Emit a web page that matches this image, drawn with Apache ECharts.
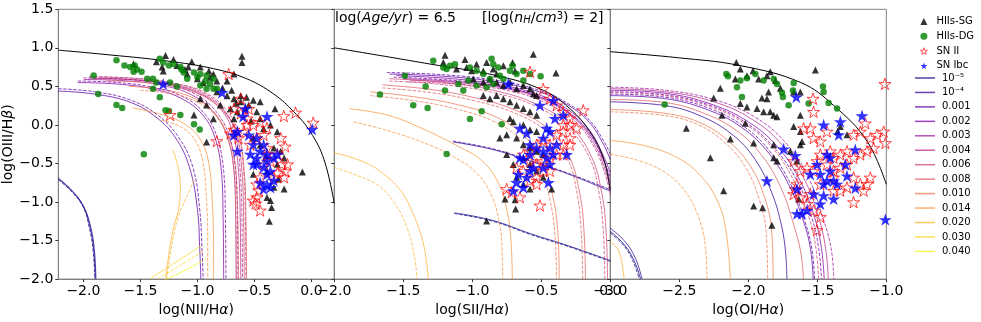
<!DOCTYPE html>
<html>
<head>
<meta charset="utf-8">
<script src="https://cdn.jsdelivr.net/npm/echarts@6.0.0/dist/echarts.min.js"></script>
<style>
html, body { margin: 0; padding: 0; background: #fff; }
#chart { width: 981px; height: 322px; }
</style>
</head>
<body>
<div id="chart"></div>
<script>
// metallicity labels of the model grid
const metals = ['10⁻⁵', '10⁻⁴', '0.001', '0.002', '0.003', '0.004', '0.006', '0.008', '0.010', '0.014', '0.020', '0.030', '0.040'];
const groups = ['HIIs-SG', 'HIIs-DG', 'SN II', 'SN Ibc'];

// ---- panel 1: log(NII/Ha) vs log(OIII/Hb)
const sgNII = [[-1.28,0.90],[-1.21,0.85],[-1.05,0.82],[-1.31,0.75],[-1.11,0.72],[-0.975,0.75],[-0.90,0.70],[-0.86,0.66],[-1.09,0.66],[-1.00,0.60],[-0.95,0.55],[-0.83,0.57],[-0.74,0.57],[-0.68,0.66],[-0.61,0.89],[-0.61,0.81],[-0.83,0.43],[-0.74,0.38],[-0.68,0.34],[-0.62,0.38],[-0.57,0.36],[-0.62,0.30],[-0.55,0.26],[-0.51,0.32],[-0.975,0.34],[-0.92,0.26],[-0.80,0.26],[-0.71,0.21],[-0.65,0.17],[-1.03,0.13],[-0.86,0.08],[-0.68,0.08],[-0.48,0.17],[-0.45,0.08],[-0.32,0.21],[-0.36,0.00],[-0.30,-0.09],[-0.51,-0.17],[-0.45,-0.26],[-0.33,-0.30],[-0.27,-0.34],[-0.24,-0.43],[-0.30,-0.51],[-0.39,-0.60],[-0.08,-0.61],[-0.51,-0.64],[-0.33,-0.81],[-0.24,-0.83],[-0.39,-0.94],[-0.36,-0.98],[-0.35,-1.07],[-0.37,-1.25],[-0.92,-0.22],[-1.56,0.79],[-1.36,0.82],[-1.30,0.70],[-1.18,0.77],[-1.08,0.75],[-0.70,0.45],[-0.66,0.28],[-0.58,0.22],[-0.53,0.05],[-0.42,-0.05],[-0.40,-0.40],[-0.29,-0.70],[-0.45,0.30],[-0.78,0.48],[-0.89,0.62]];
const dgNII = [[-1.71,0.84],[-1.64,0.77],[-1.59,0.75],[-1.55,0.77],[-1.53,0.72],[-1.49,0.69],[-1.56,0.69],[-1.44,0.60],[-1.39,0.60],[-1.33,0.86],[-1.30,0.81],[-1.25,0.77],[-1.21,0.79],[-1.15,0.75],[-1.14,0.72],[-1.12,0.68],[-1.03,0.68],[-0.975,0.66],[-0.92,0.64],[-1.00,0.62],[-0.93,0.57],[-0.89,0.53],[-0.86,0.47],[-0.83,0.47],[-0.92,0.47],[-0.975,0.51],[-1.91,0.64],[-1.87,0.40],[-1.71,0.26],[-1.66,0.22],[-1.33,0.36],[-1.28,0.19],[-1.25,0.18],[-1.15,0.13],[-1.03,0.01],[-0.98,-0.06],[-1.47,-0.38],[-1.39,0.47],[-1.36,0.55],[-1.24,0.55],[-1.18,0.50],[-1.09,0.60],[-0.86,0.60]];
const snIINII = [[-0.726,0.66],[-1.24,0.13],[-0.83,-0.21],[-0.243,0.115],[-0.14,0.16],[0.015,0.03],[-0.68,0.21],[-0.62,0.15],[-0.565,0.085],[-0.51,0.0],[-0.45,0.04],[-0.39,-0.04],[-0.42,-0.13],[-0.48,-0.17],[-0.595,-0.085],[-0.64,-0.17],[-0.536,-0.256],[-0.39,-0.30],[-0.27,-0.17],[-0.23,-0.28],[-0.30,-0.38],[-0.36,-0.47],[-0.21,-0.51],[-0.23,-0.60],[-0.24,-0.68],[-0.30,-0.62],[-0.42,-0.51],[-0.45,-0.68],[-0.48,-0.77],[-0.46,-0.85],[-0.48,-0.94],[-0.49,-1.02],[-0.45,-1.11],[-0.51,-0.98],[-0.565,0.0],[-0.68,-0.06],[-0.71,-0.11],[-0.62,0.34],[-0.55,0.21],[-0.39,-0.38],[-0.33,-0.68],[-0.26,-0.51]];
const snIbcNII = [[-1.30,0.53],[-0.785,0.42],[-0.58,0.21],[-0.60,0.11],[-0.39,0.11],[-0.65,-0.085],[-0.55,-0.13],[-0.48,-0.17],[-0.51,-0.256],[-0.42,-0.256],[-0.45,-0.34],[-0.39,-0.38],[-0.48,-0.43],[-0.39,-0.47],[-0.33,-0.43],[-0.30,-0.38],[-0.42,-0.55],[-0.51,-0.51],[-0.39,-0.64],[-0.45,-0.75],[-0.39,-0.77],[-0.36,-0.81],[-0.42,-0.83],[-0.33,-0.72],[-0.65,-0.34],[0.006,-0.056],[-0.68,-0.13],[-0.536,-0.38],[-0.48,-0.51],[-0.36,-0.60]];
const kewNII = [[-2.22,0.97],[-1.85,0.92],[-1.27,0.83],[-0.86,0.73],[-0.57,0.60],[-0.33,0.40],[-0.155,0.17],[-0.01,-0.09],[0.11,-0.45],[0.2,-1.02]];
// model tracks: [metallicity index, points]; first set drawn solid, second dashed
const niiSolid = [
  [0, [[-2.22,-0.69],[-2.1,-0.85],[-2.0,-1.05],[-1.94,-1.3],[-1.905,-1.6],[-1.89,-2.0]]],
  [1, [[-2.22,-0.7],[-2.1,-0.86],[-2.0,-1.06],[-1.945,-1.31],[-1.91,-1.61],[-1.895,-2.0]]],
  [2, [[-2.22,0.44],[-1.9,0.4],[-1.6,0.3],[-1.38,0.12],[-1.2,-0.15],[-1.07,-0.55],[-1.0,-1.1],[-0.98,-1.6],[-0.97,-2.0]]],
  [3, [[-2.05,0.55],[-1.7,0.53],[-1.4,0.47],[-1.15,0.35],[-0.96,0.14],[-0.85,-0.15],[-0.79,-0.6],[-0.775,-1.2],[-0.77,-2.0]]],
  [4, [[-2.0,0.59],[-1.6,0.57],[-1.3,0.51],[-1.05,0.39],[-0.86,0.17],[-0.74,-0.15],[-0.68,-0.6],[-0.665,-1.2],[-0.66,-2.0]]],
  [5, [[-1.95,0.61],[-1.6,0.59],[-1.3,0.54],[-1.0,0.42],[-0.8,0.21],[-0.69,-0.1],[-0.64,-0.6],[-0.625,-1.2],[-0.62,-2.0]]],
  [6, [[-1.9,0.6],[-1.5,0.58],[-1.2,0.52],[-0.95,0.4],[-0.77,0.19],[-0.66,-0.1],[-0.61,-0.6],[-0.595,-1.2],[-0.59,-2.0]]],
  [7, [[-1.8,0.57],[-1.45,0.55],[-1.15,0.48],[-0.92,0.35],[-0.75,0.14],[-0.64,-0.15],[-0.59,-0.6],[-0.575,-1.2],[-0.57,-2.0]]],
  [8, [[-1.6,0.5],[-1.3,0.46],[-1.05,0.36],[-0.88,0.2],[-0.76,-0.05],[-0.68,-0.4],[-0.65,-1.0],[-0.64,-2.0]]],
  [9, [[-1.57,0.22],[-1.3,0.13],[-1.1,0.0],[-0.97,-0.2],[-0.9,-0.5],[-0.87,-1.0],[-0.86,-1.5],[-0.86,-2.0]]],
  [10, [[-1.215,-0.32],[-1.17,-0.55],[-1.15,-0.8],[-1.16,-1.05],[-1.22,-1.4],[-1.28,-2.0]]],
  [11, [[-1.42,-2.0],[-1.2,-1.79],[-0.96,-1.56]]],
  [12, [[-1.3,-2.02],[-1.1,-1.88],[-0.93,-1.74]]]
];
const niiDashed = [
  [0, [[-2.22,-0.71],[-2.1,-0.87],[-2.0,-1.07],[-1.95,-1.32],[-1.915,-1.62],[-1.9,-2.0]]],
  [2, [[-2.22,0.47],[-1.9,0.43],[-1.6,0.33],[-1.36,0.14],[-1.17,-0.15],[-1.04,-0.55],[-0.98,-1.1],[-0.96,-1.6],[-0.95,-2.0]]],
  [3, [[-2.05,0.57],[-1.7,0.55],[-1.4,0.49],[-1.13,0.37],[-0.94,0.15],[-0.83,-0.15],[-0.77,-0.6],[-0.755,-1.2],[-0.75,-2.0]]],
  [4, [[-2.0,0.61],[-1.6,0.59],[-1.3,0.53],[-1.03,0.41],[-0.84,0.18],[-0.72,-0.15],[-0.665,-0.6],[-0.65,-1.2],[-0.645,-2.0]]],
  [5, [[-1.95,0.63],[-1.6,0.61],[-1.3,0.56],[-0.98,0.44],[-0.78,0.22],[-0.67,-0.1],[-0.625,-0.6],[-0.61,-1.2],[-0.605,-2.0]]],
  [6, [[-1.85,0.62],[-1.5,0.6],[-1.2,0.54],[-0.93,0.42],[-0.75,0.2],[-0.64,-0.1],[-0.595,-0.6],[-0.58,-1.2],[-0.575,-2.0]]],
  [8, [[-1.5,0.45],[-1.25,0.41],[-1.02,0.31],[-0.86,0.15],[-0.75,-0.1],[-0.69,-0.45],[-0.665,-1.0],[-0.66,-2.0]]],
  [9, [[-1.32,0.06],[-1.15,-0.02],[-1.02,-0.2],[-0.95,-0.5],[-0.92,-1.0],[-0.91,-1.5],[-0.91,-2.0]]],
  [10, [[-1.03,-0.72],[-1.1,-0.95],[-1.17,-1.2],[-1.23,-1.6],[-1.27,-2.0]]],
  [11, [[-1.35,-2.0],[-1.15,-1.82],[-0.95,-1.64]]]
];

// ---- panel 2: log(SII/Ha)
const sgSII = [[-1.198,0.903],[-1.21,0.81],[-1.053,0.85],[-1.114,0.724],[-1.041,0.745],[-1.005,0.703],[-0.969,0.788],[-0.92,0.70],[-0.896,0.81],[-0.848,0.724],[-0.824,0.66],[-0.775,0.767],[-0.708,0.81],[-0.69,0.70],[-0.558,0.916],[-0.394,0.673],[-0.993,0.596],[-0.92,0.554],[-0.872,0.596],[-0.824,0.554],[-0.775,0.511],[-0.727,0.554],[-0.679,0.468],[-0.63,0.511],[-0.582,0.468],[-0.558,0.404],[-0.534,0.383],[-0.92,0.383],[-0.872,0.34],[-0.824,0.383],[-0.775,0.34],[-0.727,0.30],[-0.679,0.255],[-0.63,0.213],[-0.582,0.17],[-0.534,0.127],[-0.727,0.085],[-0.703,0.042],[-0.63,0.0],[-0.582,-0.064],[-0.534,-0.086],[-0.751,-0.128],[-0.679,-0.171],[-0.63,-0.256],[-0.582,-0.30],[-0.534,-0.34],[-0.486,-0.384],[-0.63,-0.427],[-0.582,-0.512],[-0.534,-0.597],[-0.486,-0.68],[-0.679,-0.68],[-0.63,-0.768],[-0.582,-0.83],[-0.425,-0.83],[-0.763,-0.96],[-0.69,-0.97],[-0.686,-1.09],[-0.896,-1.245],[-0.80,-0.17],[-0.751,-0.384],[-0.703,-0.512]];
const dgSII = [[-1.283,0.831],[-1.21,0.745],[-1.186,0.724],[-1.162,0.767],[-1.126,0.788],[-1.017,0.745],[-0.969,0.703],[-0.92,0.66],[-0.872,0.596],[-0.86,0.86],[-0.848,0.788],[-0.812,0.745],[-0.80,0.639],[-0.775,0.596],[-0.727,0.703],[-0.708,0.767],[-0.679,0.66],[-0.63,0.703],[-0.582,0.66],[-0.505,0.63],[-0.63,0.575],[-0.848,0.532],[-1.488,0.639],[-1.669,0.396],[-1.338,0.50],[-1.198,0.447],[-1.428,0.255],[-1.324,0.221],[-1.017,0.076],[-0.932,0.178],[-0.787,0.01],[-1.186,-0.376],[-0.969,0.511],[-1.101,0.532],[-1.029,0.575],[-0.896,0.49],[-1.065,0.447]];
const snIISII = [[-0.582,0.69],[-0.196,0.191],[-0.292,0.085],[-0.341,0.0],[-0.486,0.468],[-0.437,0.34],[-0.389,0.255],[-0.341,0.17],[-0.292,0.0],[-0.341,-0.086],[-0.389,-0.128],[-0.292,-0.171],[-0.341,-0.256],[-0.437,-0.256],[-0.486,-0.214],[-0.534,-0.256],[-0.582,-0.34],[-0.63,-0.384],[-0.582,-0.47],[-0.534,-0.512],[-0.486,-0.47],[-0.437,-0.427],[-0.389,-0.384],[-0.486,-0.597],[-0.534,-0.68],[-0.582,-0.725],[-0.63,-0.597],[-0.679,-0.555],[-0.534,-0.768],[-0.751,-0.83],[-0.715,-0.874],[-0.655,-0.938],[-0.51,-1.045],[-0.244,-0.043],[-0.292,-0.256],[-0.341,-0.384],[-0.437,-0.597]];
const snIbcSII = [[-0.739,0.532],[-0.51,0.255],[-0.413,0.319],[-0.341,0.127],[-0.401,0.085],[-0.461,-0.043],[-0.655,-0.043],[-0.606,-0.107],[-0.437,-0.086],[-0.486,-0.171],[-0.389,-0.256],[-0.437,-0.30],[-0.486,-0.34],[-0.534,-0.30],[-0.582,-0.384],[-0.63,-0.448],[-0.655,-0.427],[-0.461,-0.427],[-0.413,-0.384],[-0.316,-0.384],[-0.437,-0.512],[-0.486,-0.555],[-0.558,-0.555],[-0.582,-0.597],[-0.667,-0.64],[-0.606,-0.68],[-0.679,-0.746],[-0.63,-0.81],[-0.703,-0.853],[-0.449,-0.746],[-0.582,-0.256]];
const kewSII = [[-2.0,1.0],[-1.6,0.88],[-1.307,0.79],[-0.824,0.64],[-0.486,0.45],[-0.292,0.21],[-0.147,-0.09],[-0.05,-0.43],[0.0,-0.85]];
const siiSolid = [
  [0, [[-1.13,-1.14],[-0.85,-1.24],[-0.58,-1.41],[-0.3,-1.57],[0.0,-1.76]]],
  [1, [[-1.14,-0.22],[-0.85,-0.32],[-0.58,-0.47],[-0.3,-0.64],[0.0,-0.86]]],
  [2, [[-1.6,0.66],[-1.2,0.63],[-0.8,0.55],[-0.5,0.42],[-0.3,0.25],[-0.15,0.03],[-0.05,-0.25],[0.0,-0.45]]],
  [3, [[-1.55,0.64],[-1.15,0.6],[-0.8,0.52],[-0.5,0.38],[-0.3,0.19],[-0.15,-0.07],[-0.05,-0.4],[0.0,-0.62]]],
  [4, [[-1.5,0.6],[-1.1,0.56],[-0.75,0.48],[-0.48,0.34],[-0.28,0.13],[-0.13,-0.17],[-0.04,-0.5],[0.0,-0.75]]],
  [5, [[-1.45,0.58],[-1.05,0.54],[-0.7,0.45],[-0.45,0.3],[-0.25,0.07],[-0.11,-0.27],[-0.03,-0.62],[0.0,-0.85]]],
  [6, [[-1.6,0.6],[-1.2,0.55],[-0.85,0.45],[-0.55,0.28],[-0.3,0.0],[-0.14,-0.4],[-0.06,-0.9],[-0.03,-1.4],[-0.02,-2.0]]],
  [7, [[-1.65,0.52],[-1.3,0.46],[-1.0,0.36],[-0.7,0.2],[-0.45,-0.05],[-0.3,-0.4],[-0.22,-0.9],[-0.19,-1.4],[-0.18,-2.0]]],
  [8, [[-1.74,0.43],[-1.4,0.36],[-1.1,0.26],[-0.85,0.12],[-0.65,-0.1],[-0.5,-0.45],[-0.42,-0.9],[-0.38,-1.4],[-0.37,-2.0]]],
  [9, [[-1.89,0.21],[-1.6,0.12],[-1.31,-0.09],[-1.1,-0.28],[-0.94,-0.45],[-0.82,-0.72],[-0.75,-1.1],[-0.72,-1.5],[-0.71,-2.0]]],
  [10, [[-2.0,-0.36],[-1.8,-0.47],[-1.67,-0.6],[-1.52,-0.85],[-1.43,-1.15],[-1.36,-1.5],[-1.33,-1.8],[-1.32,-2.0]]]
];
const siiDashed = [
  [0, [[-1.13,-1.15],[-0.85,-1.25],[-0.58,-1.42],[-0.3,-1.58],[0.0,-1.77]]],
  [1, [[-1.14,-0.21],[-0.85,-0.31],[-0.58,-0.46],[-0.3,-0.63],[0.0,-0.84]]],
  [2, [[-1.62,0.68],[-1.2,0.65],[-0.8,0.57],[-0.5,0.44],[-0.3,0.27],[-0.15,0.06],[-0.05,-0.2],[0.0,-0.38]]],
  [3, [[-1.57,0.62],[-1.15,0.58],[-0.8,0.5],[-0.5,0.36],[-0.3,0.16],[-0.15,-0.1],[-0.05,-0.45],[0.0,-0.68]]],
  [5, [[-1.47,0.56],[-1.05,0.52],[-0.7,0.43],[-0.45,0.27],[-0.25,0.04],[-0.11,-0.31],[-0.03,-0.68],[0.0,-0.9]]],
  [6, [[-1.6,0.57],[-1.2,0.52],[-0.85,0.42],[-0.55,0.25],[-0.31,-0.03],[-0.15,-0.43],[-0.08,-0.9],[-0.05,-1.4],[-0.04,-2.0]]],
  [7, [[-1.65,0.48],[-1.3,0.42],[-1.0,0.32],[-0.7,0.16],[-0.46,-0.09],[-0.31,-0.44],[-0.24,-0.9],[-0.21,-1.4],[-0.2,-2.0]]],
  [8, [[-1.74,0.38],[-1.4,0.31],[-1.1,0.2],[-0.85,0.05],[-0.66,-0.17],[-0.52,-0.52],[-0.44,-0.95],[-0.4,-1.45],[-0.39,-2.0]]],
  [9, [[-1.86,0.04],[-1.6,-0.08],[-1.31,-0.26],[-1.12,-0.43],[-0.97,-0.62],[-0.86,-0.92],[-0.8,-1.3],[-0.785,-1.6],[-0.78,-2.0]]],
  [10, [[-2.0,-0.55],[-1.8,-0.68],[-1.67,-0.8],[-1.55,-1.05],[-1.47,-1.35],[-1.42,-1.7],[-1.4,-2.0]]]
];

// ---- panel 3: log(OI/Ha)
const sgOI = [[-2.087,0.809],[-2.058,0.724],[-2.01,0.639],[-1.966,0.703],[-1.865,0.639],[-1.841,0.69],[-1.925,0.596],[-2.094,0.596],[-1.514,0.711],[-2.251,0.349],[-2.203,0.477],[-2.058,0.277],[-2.01,0.234],[-1.937,0.213],[-1.901,0.349],[-1.865,0.34],[-1.853,0.426],[-1.804,0.575],[-1.768,0.477],[-1.671,0.426],[-1.623,0.426],[-1.841,0.17],[-1.816,0.127],[-1.792,0.106],[-1.889,0.17],[-1.623,0.127],[-1.671,-0.022],[-1.623,-0.086],[-1.611,-0.214],[-2.191,0.127],[-2.022,0.021],[-1.961,-0.235],[-2.13,-0.184],[-2.449,-0.043],[-2.275,-0.427],[-1.816,-0.256],[-1.792,-0.469],[-1.816,-0.427],[-1.696,-0.341],[-1.647,-0.469],[-2.179,-0.853],[-1.961,-1.053],[-1.896,-1.075],[-1.829,-1.30],[-1.635,-0.96],[-1.333,-0.022],[-1.353,-0.086],[-1.285,-0.128],[-1.623,-0.256]];
const dgOI = [[-2.159,0.66],[-2.147,0.63],[-2.082,0.49],[-2.058,0.575],[-2.046,0.362],[-2.01,0.605],[-1.949,0.66],[-1.889,0.575],[-1.816,0.596],[-1.792,0.532],[-1.756,0.417],[-1.749,0.362],[-1.708,0.255],[-1.671,0.545],[-1.676,0.447],[-1.563,0.277],[-1.459,0.50],[-1.418,0.285],[-1.357,0.213],[-2.606,0.264],[-1.454,0.426]];
const snIIOI = [[-1.01,0.532],[-1.531,0.34],[-1.527,0.17],[-1.599,-0.043],[-1.551,-0.043],[-1.527,-0.171],[-1.478,-0.214],[-1.43,-0.086],[-1.406,-0.341],[-1.382,-0.427],[-1.333,-0.384],[-1.285,-0.341],[-1.237,-0.128],[-1.188,-0.086],[-1.152,0.021],[-1.116,-0.171],[-1.068,-0.128],[-1.019,-0.086],[-1.007,-0.235],[-1.092,-0.30],[-1.14,-0.341],[-1.188,-0.384],[-1.237,-0.427],[-1.285,-0.512],[-1.333,-0.555],[-1.382,-0.597],[-1.43,-0.512],[-1.478,-0.384],[-1.502,-0.469],[-1.527,-0.597],[-1.575,-0.555],[-1.623,-0.597],[-1.671,-0.469],[-1.647,-0.768],[-1.671,-0.896],[-1.623,-0.938],[-1.527,-1.109],[-1.478,-1.194],[-1.502,-1.364],[-1.382,-0.853],[-1.333,-0.853],[-1.285,-0.81],[-1.237,-0.682],[-1.188,-0.768],[-1.14,-0.768],[-1.116,-0.682],[-1.164,-0.853],[-1.237,-1.002],[-1.478,-0.768],[-1.382,-0.682],[-1.551,-0.896],[-1.575,-1.024],[-1.659,-0.832]];
const snIbcOI = [[-1.652,0.362],[-1.176,0.119],[-1.333,0.042],[-1.454,0.0],[-1.345,-0.128],[-1.744,-0.311],[-1.659,-0.397],[-1.865,-0.725],[-1.647,-0.832],[-1.502,-0.512],[-1.478,-0.64],[-1.43,-0.384],[-1.406,-0.427],[-1.406,-0.597],[-1.382,-0.725],[-1.43,-0.725],[-1.454,-0.768],[-1.357,-0.768],[-1.285,-0.661],[-1.297,-0.512],[-1.225,-0.32],[-1.551,-0.64],[-1.527,-0.896],[-1.382,-0.96],[-1.454,-0.917],[-1.478,-1.024],[-1.575,-1.109],[-1.647,-1.151],[-1.611,-1.151],[-1.225,-0.819],[-1.007,-1.228]];
const kewOI = [[-3.0,0.95],[-2.5,0.87],[-2.06,0.77],[-1.62,0.55],[-1.38,0.25],[-1.14,-0.21],[-1.0,-0.77]];
const oiSolid = [
  [0, [[-3.0,-1.38],[-2.9,-1.55],[-2.83,-1.75],[-2.78,-2.0]]],
  [1, [[-3.0,-1.34],[-2.9,-1.5],[-2.82,-1.72],[-2.77,-2.0]]],
  [1, [[-3.0,0.3],[-2.6,0.25],[-2.35,0.12],[-2.12,-0.12],[-1.95,-0.45],[-1.83,-0.88],[-1.76,-1.3],[-1.73,-1.65],[-1.72,-2.0]]],
  [2, [[-3.0,0.38],[-2.6,0.34],[-2.3,0.2],[-2.05,-0.03],[-1.85,-0.37],[-1.7,-0.8],[-1.6,-1.25],[-1.55,-1.6],[-1.53,-2.0]]],
  [3, [[-3.0,0.45],[-2.6,0.41],[-2.27,0.27],[-2.0,0.04],[-1.78,-0.3],[-1.62,-0.74],[-1.52,-1.2],[-1.47,-1.6],[-1.45,-2.0]]],
  [5, [[-3.0,0.47],[-2.6,0.43],[-2.25,0.3],[-1.97,0.07],[-1.75,-0.27],[-1.59,-0.72],[-1.49,-1.2],[-1.44,-1.6],[-1.42,-2.0]]],
  [7, [[-3.0,0.33],[-2.6,0.29],[-2.32,0.15],[-2.08,-0.08],[-1.9,-0.4],[-1.76,-0.83],[-1.67,-1.3],[-1.62,-1.65],[-1.6,-2.0]]],
  [8, [[-3.0,0.2],[-2.6,0.15],[-2.35,0.03],[-2.15,-0.2],[-1.99,-0.52],[-1.88,-0.95],[-1.83,-1.4],[-1.82,-2.0]]],
  [9, [[-3.0,-0.2],[-2.75,-0.27],[-2.52,-0.42],[-2.35,-0.65],[-2.22,-1.0],[-2.16,-1.4],[-2.13,-2.0]]],
  [10, [[-3.0,-1.52],[-2.95,-1.6],[-2.92,-1.75],[-2.9,-2.0]]]
];
const oiDashed = [
  [0, [[-3.0,-1.4],[-2.9,-1.57],[-2.835,-1.77],[-2.79,-2.0]]],
  [2, [[-3.0,0.4],[-2.6,0.36],[-2.29,0.22],[-2.04,-0.01],[-1.84,-0.35],[-1.69,-0.78],[-1.59,-1.25],[-1.54,-1.6],[-1.52,-2.0]]],
  [3, [[-3.0,0.43],[-2.6,0.39],[-2.27,0.25],[-2.01,0.02],[-1.8,-0.32],[-1.64,-0.75],[-1.54,-1.2],[-1.49,-1.6],[-1.47,-2.0]]],
  [4, [[-3.0,0.49],[-2.6,0.45],[-2.25,0.33],[-1.95,0.1],[-1.72,-0.25],[-1.56,-0.7],[-1.46,-1.2],[-1.4,-1.6],[-1.38,-2.0]]],
  [6, [[-3.0,0.42],[-2.6,0.38],[-2.28,0.24],[-2.02,0.01],[-1.81,-0.33],[-1.66,-0.76],[-1.56,-1.2],[-1.51,-1.6],[-1.49,-2.0]]],
  [8, [[-3.0,0.17],[-2.6,0.12],[-2.36,0.0],[-2.17,-0.23],[-2.02,-0.55],[-1.92,-0.97],[-1.87,-1.4],[-1.86,-2.0]]],
  [9, [[-3.0,-0.38],[-2.8,-0.46],[-2.6,-0.62],[-2.45,-0.88],[-2.35,-1.25],[-2.31,-1.6],[-2.3,-2.0]]]
];

// ---- styles
const plasma = ['13,8,135', '53,4,152', '92,1,166', '126,3,168', '156,23,158', '181,47,140', '204,71,120', '222,95,101', '237,121,83', '248,149,64', '253,180,47', '251,213,36', '240,249,33'];
const lineCol = plasma.map(c => 'rgba(' + c + ',0.75)');
const starPath = 'path://M50 0L61.23 34.55L97.55 34.55L68.16 55.9L79.39 90.45L50 69.1L20.61 90.45L31.84 55.9L2.45 34.55L38.77 34.55Z';
const font = 'DejaVu Sans';
const axisCol = '#808080';

const panels = [
  { min: -2.22, max: 0.2, ticks: [-2.0, -1.5, -1.0, -0.5, 0.0], name: 'log(NII/H{a|α})', pts: [sgNII, dgNII, snIINII, snIbcNII], kew: kewNII, solid: niiSolid, dashed: niiDashed },
  { min: -2.0, max: 0.0, ticks: null, name: 'log(SII/H{a|α})', pts: [sgSII, dgSII, snIISII, snIbcSII], kew: kewSII, solid: siiSolid, dashed: siiDashed },
  { min: -3.0, max: -1.0, ticks: null, name: 'log(OI/H{a|α})', pts: [sgOI, dgOI, snIIOI, snIbcOI], kew: kewOI, solid: oiSolid, dashed: oiDashed }
];
const lefts = [58.3, 334.3, 610.3];
const pw = 276;

function fmt(v) {
  return (v < -1e-9 ? '\u2212' : '') + Math.abs(v).toFixed(1);
}

const markerStyle = [
  { symbol: 'triangle', symbolSize: 7, itemStyle: { color: '#000' } },
  { symbol: 'circle', symbolSize: 6.5, itemStyle: { color: '#008000' } },
  { symbol: starPath, symbolSize: 12, itemStyle: { color: 'rgba(255,255,255,0)', borderColor: '#ff0000', borderWidth: 0.9 } },
  { symbol: starPath, symbolSize: 13, itemStyle: { color: '#0000ff' } }
];

const grid = [], xAxis = [], yAxis = [], series = [];
panels.forEach((p, gi) => {
  grid.push({ left: lefts[gi], width: pw, top: 9.3, height: 274, show: true, borderColor: axisCol, borderWidth: 1, backgroundColor: 'transparent' });
  const ax = {
    type: 'value', gridIndex: gi, min: p.min, max: p.max,
    name: p.name, nameLocation: 'middle', nameGap: 17,
    nameTextStyle: { fontFamily: font, fontSize: 14, color: '#000', rich: { a: { fontFamily: font, fontSize: 14, fontStyle: 'italic' } } },
    axisLine: { onZero: false, lineStyle: { color: axisCol } },
    axisTick: { length: 3, lineStyle: { color: '#333' } },
    axisLabel: { fontFamily: font, fontSize: 14, color: '#000', margin: 5, formatter: fmt },
    splitLine: { show: false }
  };
  if (p.ticks) {
    ax.axisTick.customValues = p.ticks;
    ax.axisLabel.customValues = p.ticks;
  } else {
    ax.interval = 0.5;
  }
  xAxis.push(ax);
  yAxis.push({
    type: 'value', gridIndex: gi, min: -2.0, max: 1.5, interval: 0.5,
    name: gi === 0 ? 'log(OIII/H{b|β})' : '', nameLocation: 'middle', nameGap: 40,
    nameTextStyle: { fontFamily: font, fontSize: 14, color: '#000', rich: { b: { fontFamily: font, fontSize: 14, fontStyle: 'italic' } } },
    axisLine: { onZero: false, lineStyle: { color: axisCol } },
    axisTick: { length: 3, lineStyle: { color: '#333' } },
    axisLabel: { show: gi === 0, fontFamily: font, fontSize: 14, color: '#000', margin: 5, formatter: fmt },
    splitLine: { show: false }
  });

  const track = (dash) => ([m, pts]) => ({
    type: 'line', name: metals[m], xAxisIndex: gi, yAxisIndex: gi, data: pts,
    symbol: 'none', smooth: 0.4, silent: true, z: 2, animation: false,
    lineStyle: { color: lineCol[m], width: 1, type: dash },
    itemStyle: { color: lineCol[m] }
  });
  p.solid.forEach(t => series.push(track('solid')(t)));
  p.dashed.forEach(t => series.push(track([3.5, 1.5])(t)));

  series.push({
    type: 'line', name: 'max starburst', xAxisIndex: gi, yAxisIndex: gi, data: p.kew,
    symbol: 'none', smooth: 0.4, silent: true, z: 3,
    lineStyle: { color: '#000', width: 1 }, itemStyle: { color: '#000' }
  });

  p.pts.forEach((d, k) => {
    series.push(Object.assign({
      type: 'scatter', name: groups[k], xAxisIndex: gi, yAxisIndex: gi, data: d,
      symbolKeepAspect: true, silent: true, z: 4
    }, JSON.parse(JSON.stringify(markerStyle[k]))));
  });
});

const option = {
  animation: false,
  backgroundColor: '#fff',
  textStyle: { fontFamily: font },
  grid: grid,
  xAxis: xAxis,
  yAxis: yAxis,
  legend: [
    {
      orient: 'vertical', left: 915, top: 11.5, itemWidth: 7, itemHeight: 7, itemGap: 4.8,
      selectedMode: false,
      formatter: n => '{g|}' + n,
      textStyle: { fontFamily: font, fontSize: 10, color: '#000', rich: { g: { width: 4 } } },
      data: [
        { name: 'HIIs-SG', icon: 'triangle', itemStyle: { color: '#000' } },
        { name: 'HIIs-DG', icon: 'circle' },
        { name: 'SN II', icon: starPath, itemStyle: { borderWidth: 0.8 } },
        { name: 'SN Ibc', icon: starPath }
      ]
    },
    {
      orient: 'vertical', left: 910, top: 68, itemWidth: 20, itemHeight: 1.5, itemGap: 4.45,
      selectedMode: false, symbolKeepAspect: false, icon: 'rect',
      formatter: n => '{g|}' + n,
      textStyle: { fontFamily: font, fontSize: 10, color: '#000', rich: { g: { width: 2 } } },
      data: metals
    }
  ],
  graphic: [
    {
      type: 'text', left: 335, top: 11, silent: true,
      style: {
        text: '{r|log(}{i|Age/yr}{r|) = 6.5}',
        rich: { r: { fontFamily: font, fontSize: 14, fill: '#000' }, i: { fontFamily: font, fontSize: 14, fontStyle: 'italic', fill: '#000' } }
      }
    },
    {
      type: 'text', left: 482, top: 11, silent: true,
      style: {
        text: '{r|[log(}{i|n}{s|H}{r|/}{i|cm}{p|3}{r|) = 2]}',
        rich: {
          r: { fontFamily: font, fontSize: 14, fill: '#000' },
          i: { fontFamily: font, fontSize: 14, fontStyle: 'italic', fill: '#000' },
          s: { fontFamily: font, fontSize: 10, fontStyle: 'italic', fill: '#000', verticalAlign: 'bottom' },
          p: { fontFamily: font, fontSize: 10, fill: '#000', verticalAlign: 'top' }
        }
      }
    }
  ],
  series: series
};

const chart = echarts.init(document.getElementById('chart'));
chart.setOption(option);
</script>
</body>
</html>
